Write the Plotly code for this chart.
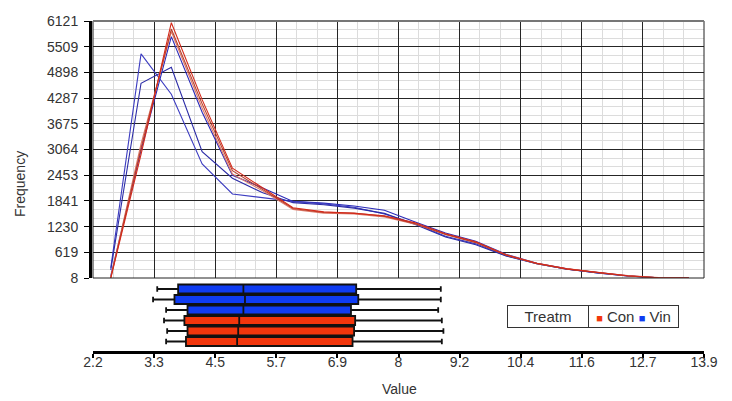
import plotly.graph_objects as go

# ---------------- data ----------------
bin_centers = [2.54, 3.12, 3.70, 4.29, 4.87, 5.45, 6.03, 6.62, 7.20, 7.78,
               8.37, 8.95, 9.53, 10.11, 10.70, 11.28, 11.86, 12.44, 13.03, 13.61]

con_1 = [8, 2950, 6080, 4250, 2620, 2150, 1680, 1580, 1545, 1490, 1320, 1060, 870, 560, 360, 225, 135, 60, 15, 8]
con_2 = [8, 3100, 5930, 4150, 2560, 2100, 1660, 1565, 1555, 1475, 1300, 1045, 850, 550, 350, 220, 130, 55, 12, 8]
con_3 = [30, 3200, 5870, 4050, 2480, 2080, 1640, 1550, 1530, 1460, 1290, 1050, 860, 560, 355, 230, 140, 65, 20, 8]
vin_1 = [60, 3050, 5750, 3950, 2450, 2150, 1830, 1790, 1720, 1620, 1340, 1080, 880, 570, 360, 225, 130, 55, 10, 8]
vin_2 = [250, 5340, 4380, 2720, 2006, 1910, 1830, 1770, 1690, 1530, 1300, 1000, 820, 540, 350, 220, 135, 60, 15, 8]
vin_3 = [200, 4640, 5020, 3013, 2380, 2035, 1800, 1750, 1670, 1545, 1280, 985, 800, 530, 345, 215, 130, 55, 15, 8]

y_tickvals = [8, 619.3, 1230.6, 1841.9, 2453.2, 3064.5, 3675.8, 4287.1, 4898.4, 5509.7, 6121]
y_ticktext = ["8", "619", "1230", "1841", "2453", "3064", "3675", "4287", "4898", "5509", "6121"]
x_tickvals = [2.2, 3.37, 4.54, 5.71, 6.88, 8.05, 9.22, 10.39, 11.56, 12.73, 13.9]
x_ticktext = ["2.2", "3.3", "4.5", "5.7", "6.9", "8", "9.2", "10.4", "11.6", "12.7", "13.9"]

# box summary rows (top to bottom)
box_group = ["Vin", "Vin", "Vin", "Con", "Con", "Con"]
box_low = [3.43, 3.35, 3.60, 3.56, 3.62, 3.60]
box_q1 = [3.83, 3.76, 4.01, 3.95, 4.01, 3.98]
box_median = [5.08, 5.11, 5.08, 5.00, 4.98, 4.96]
box_q3 = [7.24, 7.28, 7.14, 7.22, 7.20, 7.17]
box_high = [8.86, 8.86, 8.81, 8.88, 8.91, 8.88]

# ---------------- style ----------------
FONT = "Liberation Sans, Arial, sans-serif"
TXT = "#333333"
RED_FILL = "#f2360c"
BLUE_FILL = "#0f3cf2"
line_colors = {
    "vin_1": "#2a2ab8", "vin_2": "#3c3cc0", "vin_3": "#2b2ba6",
    "con_1": "#d42a1a", "con_2": "#b8402c", "con_3": "#de7a6a",
}

fig = go.Figure()

series = [("vin_1", vin_1), ("vin_2", vin_2), ("vin_3", vin_3),
          ("con_3", con_3), ("con_2", con_2), ("con_1", con_1)]
for name, vals in series:
    fig.add_trace(go.Scatter(
        x=bin_centers, y=vals, mode="lines", name=name,
        line=dict(color=line_colors[name], width=1.1),
        xaxis="x", yaxis="y", showlegend=False, hoverinfo="skip"))

for i in range(len(box_group)):
    fill = BLUE_FILL if box_group[i] == "Vin" else RED_FILL
    fig.add_trace(go.Box(
        y=[i], q1=[box_q1[i]], median=[box_median[i]], q3=[box_q3[i]],
        lowerfence=[box_low[i]], upperfence=[box_high[i]],
        orientation="h", fillcolor=fill,
        line=dict(color="#111111", width=1.8),
        whiskerwidth=0.6, width=0.86, boxpoints=False,
        xaxis="x2", yaxis="y2", showlegend=False, hoverinfo="skip"))

W, H = 732, 401
ML, MR, MT, MB = 90, 28, 21, 50
PW, PH = W - ML - MR, H - MT - MB


def px_x(p):
    return (p - ML) / PW


def px_y(p):
    return (H - MB - p) / PH


x_dom = [3 / PW, 1]
grid_major = "#262626"
grid_minor = "#dcdcdc"

fig.update_layout(
    width=W, height=H,
    margin=dict(l=ML, r=MR, t=MT, b=MB, pad=0),
    paper_bgcolor="white", plot_bgcolor="white",
    font=dict(family=FONT, size=14, color=TXT),
    boxmode="overlay",
    showlegend=False,
    xaxis=dict(domain=x_dom, anchor="y", range=[2.2, 13.9],
               tickmode="array", tickvals=x_tickvals, showticklabels=False,
               ticks="", showgrid=True, gridcolor=grid_major, gridwidth=1,
               zeroline=False, showline=False,
               minor=dict(tickmode="linear", tick0=2.2, dtick=0.39,
                          showgrid=True, gridcolor=grid_minor, gridwidth=1, ticks="")),
    yaxis=dict(domain=[px_y(278), px_y(21)], anchor="free", position=0,
               range=[8, 6121], tickmode="array", tickvals=y_tickvals, ticktext=y_ticktext,
               ticks="outside", ticklen=5, tickwidth=1, tickcolor="black",
               showline=True, linewidth=3, linecolor="black",
               showgrid=True, gridcolor=grid_major, gridwidth=1, zeroline=False,
               ticklabelstandoff=3,
               tickfont=dict(size=14, color=TXT),
               minor=dict(tickmode="linear", tick0=8, dtick=611.3 / 3,
                          showgrid=True, gridcolor=grid_minor, gridwidth=1, ticks="")),
    xaxis2=dict(domain=x_dom, anchor="y2", range=[2.2, 13.9],
                tickmode="array", tickvals=x_tickvals, ticktext=x_ticktext,
                ticks="outside", ticklen=4, tickwidth=1.5, tickcolor="black",
                showline=True, linewidth=3, linecolor="black",
                showgrid=False, zeroline=False, ticklabelstandoff=-8,
                tickfont=dict(size=14, color=TXT)),
    yaxis2=dict(domain=[0, px_y(283)], anchor="x2", range=[5.905, -0.571],
                showticklabels=False, ticks="", showgrid=False, zeroline=False,
                showline=False),
)

# plot frame
fig.add_shape(type="rect", xref="x domain", yref="y domain", x0=0, x1=1, y0=0, y1=1,
              line=dict(color="#222222", width=1), layer="above")
fig.add_shape(type="line", xref="x domain", yref="y domain", x0=0, x1=1, y0=1, y1=1,
              line=dict(color="#777777", width=2), layer="above")

# axis titles
fig.add_annotation(text="Frequency", xref="paper", yref="paper", x=px_x(20), y=px_y(184),
                   xanchor="center", yanchor="middle",
                   textangle=-90, showarrow=False, font=dict(size=14, color=TXT))
fig.add_annotation(text="Value", xref="paper", yref="paper", x=px_x(399), y=px_y(389),
                   xanchor="center", yanchor="middle",
                   showarrow=False, font=dict(size=14, color=TXT))

# legend
fig.add_annotation(text="Treatm", xref="paper", yref="paper",
                   x=px_x(547.5), y=px_y(316.3), xanchor="center", yanchor="middle",
                   showarrow=False,
                   width=80, height=21, borderpad=0, borderwidth=1, bordercolor="#333333",
                   bgcolor="white", font=dict(size=15, color=TXT))
fig.add_annotation(text=(f"<span style='color:{RED_FILL};font-size:11px'>■</span> Con "
                         f"<span style='color:{BLUE_FILL};font-size:11px'>■</span> Vin"),
                   xref="paper", yref="paper",
                   x=px_x(633.8), y=px_y(316.3), xanchor="center", yanchor="middle",
                   showarrow=False,
                   width=89, height=21, borderpad=0, borderwidth=1, bordercolor="#333333",
                   bgcolor="white", font=dict(size=15, color=TXT))

fig.write_html("out.html", config={"displayModeBar": False},
               post_script="document.body.style.margin='0px';")
